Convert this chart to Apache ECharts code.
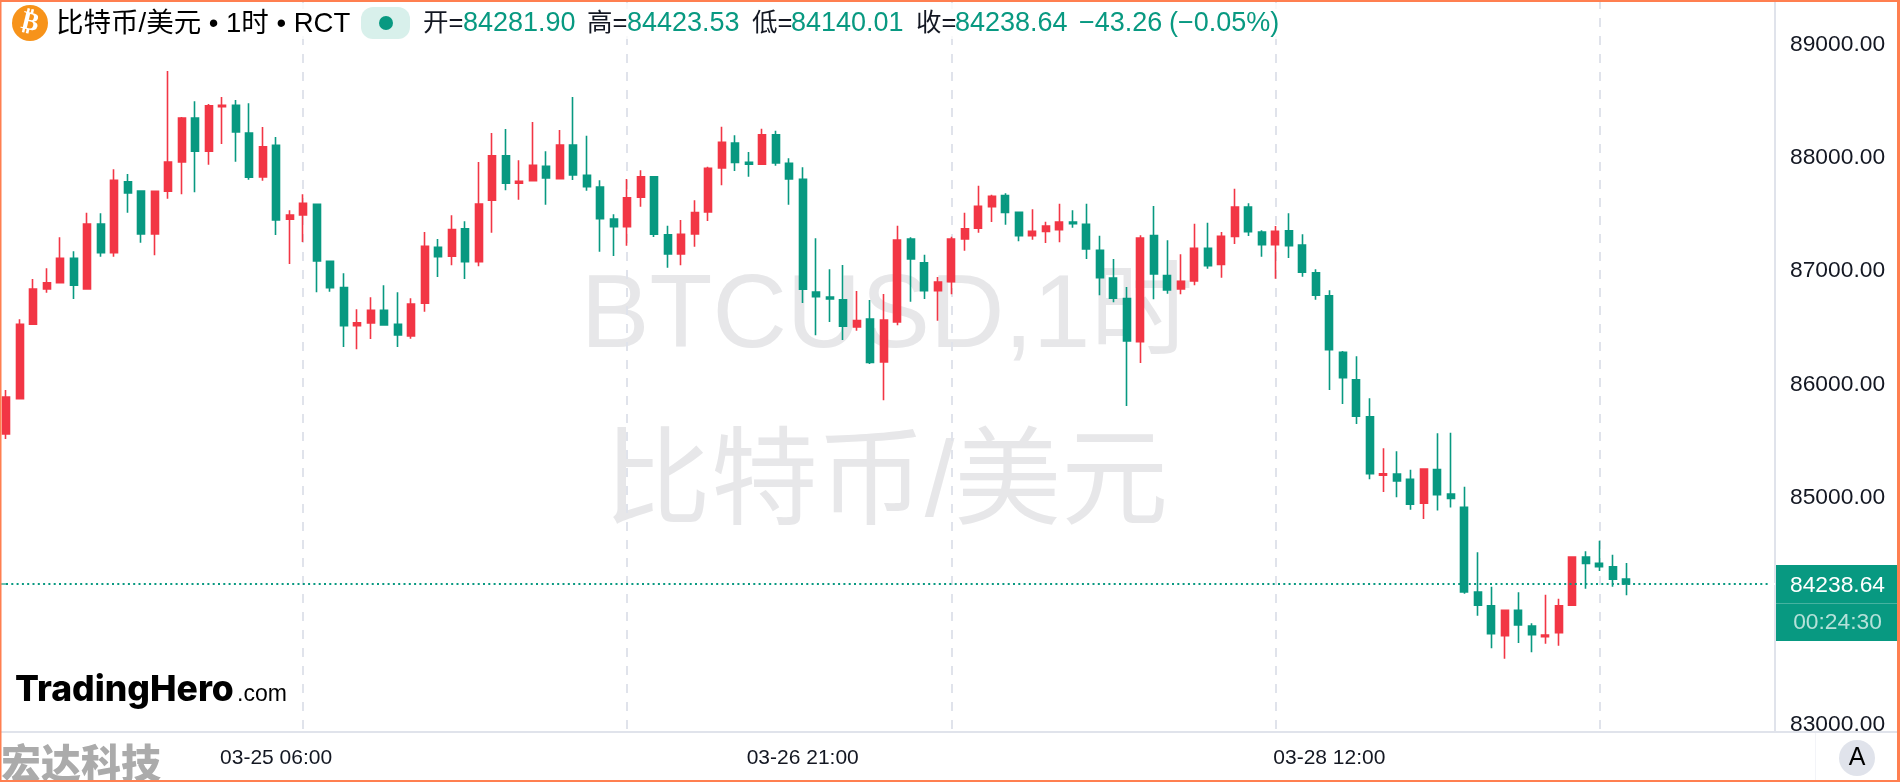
<!DOCTYPE html>
<html>
<head>
<meta charset="utf-8">
<style>html,body{margin:0;padding:0;background:#fff}#c{width:1900px;height:782px}</style>
<script src="https://cdn.jsdelivr.net/npm/echarts@6/dist/echarts.min.js"></script>
</head>
<body>
<div id="c"></div>
<script>
const opens = [85562,85874,86531,86842,86898,87113,86842,87416,87163,87789,87707,87328,87705,87963,88352,88058,88451,88464,88219,87831,88111,87458,87495,87590,87087,86854,86518,86542,86654,86531,86427,86716,87210,87131,87374,87083,87625,88019,87775,87798,87925,87816,88113,87846,87742,87460,87392,87652,87833,87321,87151,87328,87522,87910,88131,87960,87943,88204,87952,87811,86816,86772,86748,86507,86577,86198,86551,87284,87074,86827,86907,87284,87378,87569,87666,87519,87313,87351,87366,87434,87413,87184,86939,86757,86377,87313,86960,86842,86913,87201,87060,87307,87566,87345,87233,87357,87231,86986,86783,86284,86042,85715,85198,85210,85163,84951,85249,85033,84916,84168,84047,83782,84006,83868,83774,83809,84051,84477,84421,84391,84281.90];
const highs = [85951,86575,86930,87025,87299,87175,87516,87510,87899,87857,87710,87710,88766,88360,88499,88475,88537,88510,88481,88272,88184,87537,87678,87592,87087,86981,86663,86769,86875,86813,86760,87345,87284,87493,87440,87963,88219,88254,87978,88316,88058,88246,88537,88195,87802,87502,87813,87890,87833,87401,87451,87625,87922,88275,88199,88051,88257,88239,87996,87916,87290,87016,87054,86825,86745,86798,87401,87299,87145,86948,87304,87516,87754,87675,87687,87519,87546,87436,87595,87537,87595,87313,87107,86860,87316,87575,87272,87148,87419,87427,87345,87727,87599,87360,87398,87510,87325,87016,86831,86295,86248,85878,85436,85410,85247,85254,85569,85574,85097,84518,84215,84006,84165,83892,84144,84109,84477,84527,84621,84497,84423.53];
const lows = [85518,85874,86531,86810,86898,86754,86842,87127,87127,87516,87251,87140,87639,87678,87696,87939,88122,87966,87807,87798,87319,87063,87257,86813,86818,86330,86310,86401,86525,86330,86404,86642,86948,87051,86930,87043,87339,87713,87630,87798,87586,87816,87804,87710,87171,87134,87224,87569,87301,87030,87051,87216,87442,87758,87884,87833,87943,87931,87586,86719,86434,86551,86392,86474,86180,85860,86522,86730,86754,86563,86795,87180,87339,87434,87410,87263,87277,87248,87254,87383,87107,86787,86725,85810,86189,86751,86801,86795,86875,87021,86942,87239,87310,87127,86933,87116,86951,86748,85951,85827,85651,85163,85051,85004,84894,84812,84887,84914,84153,83959,83671,83579,83718,83636,83712,83694,84051,84197,84353,84215,84140.01];
const closes = [85889,86531,86842,86898,87113,86875,87416,87163,87802,87690,87328,87705,87963,88352,88058,88460,88464,88228,87828,88098,87451,87495,87599,87089,86854,86518,86545,86654,86525,86436,86710,87219,87127,87366,87083,87592,88019,87775,87793,87934,87822,88113,87848,87745,87463,87392,87648,87833,87325,87151,87325,87516,87908,88137,87960,87943,88204,87954,87813,86840,86774,86754,86513,86563,86195,86569,87275,87107,86827,86904,87284,87374,87572,87660,87519,87313,87351,87398,87434,87419,87195,86942,86760,86383,87292,86975,86833,86910,87201,87048,87307,87566,87348,87233,87351,87224,86990,86787,86306,86059,85719,85212,85212,85148,84942,85254,85027,84993,84168,84051,83800,84006,83877,83791,83788,84047,84477,84421,84391,84280,84238.64];

const priceTicks = [83000,85000,86000,87000,88000,89000];
const xTickBars = [20, 59, 98];
const xTickLabels = ['03-25 06:00', '03-26 21:00', '03-28 12:00'];
const gridBars = [22, 46, 70, 94, 118];

const lastPrice = 84238.64;
const countdown = '00:24:30';
const titleText = '比特币/美元 • 1时 • RCT';
const watermarkLines = ['BTCUSD,1时', '比特币/美元'];
const logoMain = 'TradingHero';
const logoTail = '.com';
const brandText = '宏达科技';
const padAfter = 11;

const UP = '#F23645', DOWN = '#089981', LINE = '#E0E3EB', INK = '#131722', EDGE = '#FF7F50';
const SANS = '"Liberation Sans","Noto Sans CJK SC",sans-serif';

const barCount = opens.length + padAfter;
const categories = Array.from({length: barCount}, (_, i) => 'bar' + i);
const seriesData = opens.map((o, i) => [o, closes[i], lows[i], highs[i]]);

const labelOf = {};
xTickBars.forEach((b, i) => { labelOf[b] = xTickLabels[i]; });
const gridSet = new Set(gridBars);

const headerRuns = [
  ['开=', 423, INK, 25.5], ['84281.90', 463, DOWN, 27],
  ['高=', 587, INK, 25.5], ['84423.53', 627, DOWN, 27],
  ['低=', 752, INK, 25.5], ['84140.01', 791, DOWN, 27],
  ['收=', 916, INK, 25.5], ['84238.64', 955, DOWN, 27],
  ['−43.26', 1079, DOWN, 27], ['(−0.05%)', 1169, DOWN, 27]
];

const graphics = [
  {type:'text', z:-1, silent:true, style:{x:887,y:319,text:watermarkLines[0],font:'103px '+SANS,fill:'#E7E7E9',align:'center',verticalAlign:'middle'}},
  {type:'text', z:-1, silent:true, style:{x:886,y:486,text:watermarkLines[1],font:'107px '+SANS,fill:'#E7E7E9',align:'center',verticalAlign:'middle'}},
  {type:'rect', z:1, silent:true, shape:{x:0,y:3,width:1290,height:36}, style:{fill:'rgba(255,255,255,0.8)'}},
  {type:'circle', z:3, shape:{cx:30,cy:23,r:18}, style:{fill:'#F7931A'}},
  {type:'text', z:4, x:30, y:23, rotation:-0.24, style:{x:0,y:0,text:'₿',font:'bold 26px "DejaVu Sans"',fill:'#fff',align:'center',verticalAlign:'middle'}},
  {type:'text', z:3, style:{x:56,y:24,text:titleText,font:'27.5px '+SANS,fill:'#000',align:'left',verticalAlign:'middle'}},
  {type:'rect', z:3, shape:{x:361,y:7,width:49,height:32,r:12}, style:{fill:'#D8F0EB'}},
  {type:'circle', z:4, shape:{cx:386,cy:23,r:7}, style:{fill:DOWN}},
  ...headerRuns.map(r => ({type:'text', z:3, style:{x:r[1],y:24,text:r[0],font:r[3]+'px '+SANS,fill:r[2],align:'left',verticalAlign:'middle'}})),
  {type:'rect', z:2, shape:{x:0,y:583,width:6,height:2}, style:{fill:DOWN,opacity:0.6}},
  {type:'rect', z:6, shape:{x:1769,y:583,width:6,height:2}, style:{fill:'#fff'}},
  {type:'rect', z:5, shape:{x:0,y:731,width:1897,height:2}, style:{fill:LINE}},
  {type:'rect', z:5, shape:{x:1815,y:733,width:1,height:48}, style:{fill:'#F3F4F8'}},
  {type:'rect', z:6, shape:{x:1776,y:565,width:121,height:76}, style:{fill:DOWN}},
  {type:'rect', z:7, shape:{x:1776,y:603,width:121,height:1}, style:{fill:'rgba(255,255,255,0.25)'}},
  {type:'text', z:7, style:{x:1837.5,y:586,text:lastPrice.toFixed(2),font:'22.8px '+SANS,fill:'#fff',align:'center',verticalAlign:'middle'}},
  {type:'text', z:7, style:{x:1837.5,y:622.5,text:countdown,font:'22.8px '+SANS,fill:'rgba(255,255,255,0.7)',align:'center',verticalAlign:'middle'}},
  {type:'circle', z:6, shape:{cx:1857,cy:758,r:18}, style:{fill:LINE}},
  {type:'text', z:7, style:{x:1857,y:758,text:'A',font:'25px '+SANS,fill:'#000',align:'center',verticalAlign:'middle'}},
  {type:'text', z:6, style:{x:15,y:690,text:logoMain,font:'800 35.5px Inter,'+SANS,fill:'#000',align:'left',verticalAlign:'middle'}},
  {type:'text', z:6, style:{x:237,y:695,text:logoTail,font:'23px '+SANS,fill:'#000',align:'left',verticalAlign:'middle'}},
  {type:'text', z:6, style:{x:1,y:763,text:brandText,font:'900 40px "Noto Sans CJK SC"',fill:'#ABABAB',align:'left',verticalAlign:'middle'}},
  {type:'rect', z:9, shape:{x:0,y:0,width:1900,height:2}, style:{fill:EDGE}},
  {type:'rect', z:9, shape:{x:0,y:780,width:1900,height:2}, style:{fill:EDGE}},
  {type:'rect', z:9, shape:{x:0,y:0,width:1.5,height:782}, style:{fill:EDGE}},
  {type:'rect', z:9, shape:{x:1897,y:0,width:3,height:782}, style:{fill:EDGE}}
];

const chart = echarts.init(document.getElementById('c'), null, {renderer:'canvas'});
chart.setOption({
  animation:false,
  backgroundColor:'#fff',
  grid:{left:6, right:125, top:0, bottom:50, containLabel:false},
  xAxis:{
    type:'category', data:categories, boundaryGap:false,
    axisLine:{show:false}, axisTick:{show:false},
    axisLabel:{
      interval:(i) => i in labelOf,
      formatter:(v, i) => labelOf[i] || '',
      fontSize:21, fontFamily:SANS, color:INK, margin:16, hideOverlap:false
    },
    splitLine:{show:true, interval:(i) => gridSet.has(i), lineStyle:{color:LINE, width:2, type:[9,9]}}
  },
  yAxis:{
    type:'value', position:'right', min:82932.4, max:89393, scale:true,
    axisLine:{show:true, lineStyle:{color:LINE,width:2}}, axisTick:{show:false},
    splitLine:{show:false},
    axisLabel:{customValues:priceTicks, formatter:v => v.toFixed(2), fontSize:22.8, fontFamily:SANS, color:INK, margin:15, align:'left', padding:[4,0,0,0]}
  },
  graphic:graphics,
  series:[{
    type:'candlestick', data:seriesData, barWidth:7.5, clip:false,
    itemStyle:{color:UP,color0:DOWN,borderColor:UP,borderColor0:DOWN,borderWidth:1.6},
    markLine:{
      silent:true, symbol:['none','none'], animation:false, label:{show:false},
      lineStyle:{color:DOWN,width:2,type:[2,3.3]},
      data:[{yAxis:lastPrice}]
    }
  }]
});
</script>
</body>
</html>
